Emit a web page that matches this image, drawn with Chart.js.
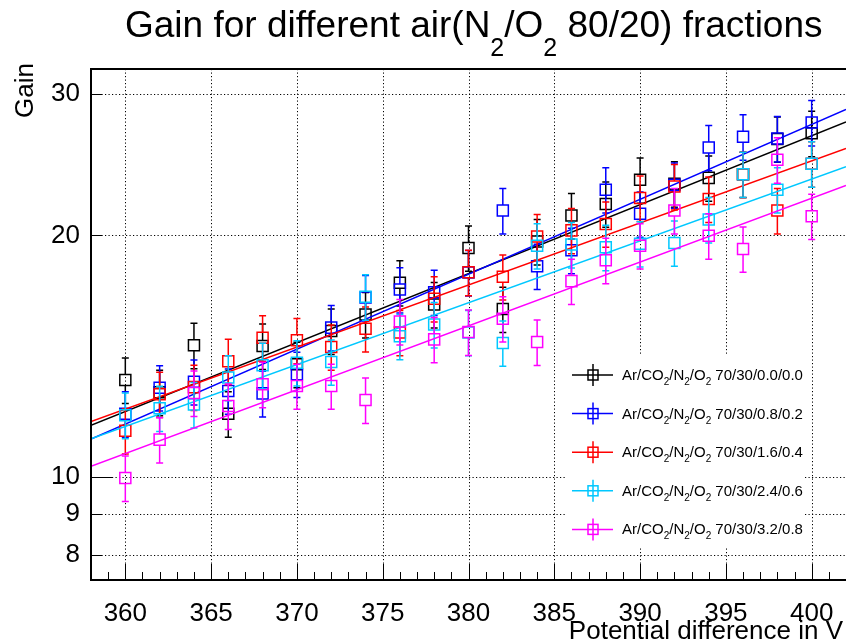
<!DOCTYPE html>
<html>
<head>
<meta charset="utf-8">
<script src="https://cdn.jsdelivr.net/npm/chart.js@4/dist/chart.umd.min.js"></script>
<style>
html,body{margin:0;padding:0;background:#fff;}
#wrap{width:846px;height:644px;position:relative;}
</style>
</head>
<body>
<div id="wrap"><canvas id="c" width="846" height="644"></canvas></div>
<script>
// ---------------- data ----------------
const voltages = [360,362,364,366,368,370,372,374,376,378,380,382,384,386,388,390,392,394,396,398,400];

const mixLabels = ['70/30/0.0/0.0','70/30/0.8/0.2','70/30/1.6/0.4','70/30/2.4/0.6','70/30/3.2/0.8'];
const mixColors = ['#000000','#0000ff','#ff0000','#00c8ff','#ff00ff'];

const gain_00 = [13.21,12.75,14.59,11.99,14.56,13.82,15.20,15.94,17.46,16.40,19.29,16.19,19.65,21.17,21.89,23.46,23.19,23.59,23.84,26.38,26.81];
const err_00  = [0.86,0.83,0.95,0.78,0.95,0.90,0.99,1.04,1.13,1.07,1.25,1.05,1.28,1.38,1.42,1.52,1.51,1.53,1.55,1.71,1.74];

const gain_08 = [11.99,12.92,13.14,12.80,12.71,13.43,15.35,16.73,17.12,16.99,17.98,21.48,18.31,19.16,22.80,21.28,23.12,25.74,26.55,26.41,27.65];
const err_08  = [0.78,0.84,0.85,0.83,0.83,0.87,1.00,1.09,1.11,1.10,1.17,1.40,1.19,1.25,1.48,1.38,1.50,1.67,1.73,1.72,1.80];

const gain_16 = [11.42,12.68,12.94,13.94,14.91,14.80,14.52,15.30,15.14,16.68,17.99,17.76,19.94,20.29,20.67,22.27,23.01,22.20,23.83,21.48,24.56];
const err_16  = [0.74,0.82,0.84,0.91,0.97,0.96,0.94,0.99,0.98,1.08,1.17,1.15,1.30,1.32,1.34,1.45,1.50,1.44,1.55,1.40,1.60];

const gain_24 = [11.94,12.18,12.31,13.30,13.78,13.88,13.91,16.77,14.97,15.49,15.14,14.69,19.42,19.48,19.33,19.53,19.57,20.93,23.84,22.80,24.56];
const err_24  = [0.78,0.79,0.80,0.86,0.90,0.90,0.90,1.09,0.97,1.01,0.98,0.95,1.26,1.27,1.26,1.27,1.27,1.36,1.55,1.48,1.60];

const gain_32 = [9.97,11.13,12.72,12.26,13.05,12.98,12.98,12.47,15.62,14.84,15.16,15.75,14.73,17.54,18.62,19.42,21.48,19.98,19.24,24.85,21.13];
const err_32  = [0.65,0.72,0.83,0.80,0.85,0.84,0.84,0.81,1.02,0.96,0.99,1.02,0.96,1.14,1.21,1.26,1.40,1.30,1.25,1.62,1.37];

// exponential fit lines (gain at both ends of the axis)
const fitVoltages = [358, 402];
const fit_00 = [11.60, 27.69];
const fit_08 = [11.15, 28.70];
const fit_16 = [11.72, 25.66];
const fit_24 = [11.16, 24.35];
const fit_32 = [10.31, 23.09];

const xTickValues = [360,365,370,375,380,385,390,395,400];
const yTickValues = [8,9,10,20,30];
const xRange = [358, 402];
const yRange = [7.44, 32.24];

const titleParts = [['Gain for different air(N',0],['2',1],['/O',0],['2',1],[' 80/20) fractions',0]];
const xTitle = 'Potential difference in V';
const yTitle = 'Gain';

// ---------------- build ----------------
const FONT = "'Liberation Sans', Arial, Helvetica, sans-serif";
const gains = [gain_00, gain_08, gain_16, gain_24, gain_32];
const errs  = [err_00, err_08, err_16, err_24, err_32];
const fits  = [fit_00, fit_08, fit_16, fit_24, fit_32];

const datasets = [];
gains.forEach((g, k) => {
  datasets.push({
    type: 'scatter',
    label: mixLabels[k],
    data: voltages.map((v, i) => ({x: v, y: g[i]})),
    errors: errs[k],
    borderColor: mixColors[k],
    backgroundColor: 'rgba(0,0,0,0)',
    pointStyle: 'rect',
    pointRadius: 7.8,
    pointBorderWidth: 1.5,
    showLine: false,
    order: 100 - k * 10
  });
  datasets.push({
    type: 'line',
    label: 'fit ' + mixLabels[k],
    data: fitVoltages.map((v, i) => ({x: v, y: fits[k][i]})),
    borderColor: mixColors[k],
    borderWidth: 1.5,
    pointRadius: 0,
    tension: 0,
    fill: false,
    order: 99 - k * 10
  });
});

function drawParts(ctx, parts, x, y, size, subSize, subDy) {
  let cx = x;
  for (const [t, sub] of parts) {
    ctx.font = (sub ? subSize : size) + 'px ' + FONT;
    ctx.fillText(t, cx, sub ? y + subDy : y);
    cx += ctx.measureText(t).width;
  }
  return cx - x;
}

const rootStyle = {
  id: 'rootStyle',
  beforeDatasetsDraw(chart) {
    const {ctx, chartArea: a, scales: {x, y}} = chart;
    ctx.save();
    ctx.strokeStyle = '#000';
    ctx.lineWidth = 1;
    ctx.setLineDash([1.2, 2.3]);
    xTickValues.forEach(v => {
      const px = Math.round(x.getPixelForValue(v)) + 0.5;
      ctx.beginPath(); ctx.moveTo(px, a.top); ctx.lineTo(px, a.bottom); ctx.stroke();
    });
    yTickValues.forEach(v => {
      const py = Math.round(y.getPixelForValue(v)) + 0.5;
      ctx.beginPath(); ctx.moveTo(a.left, py); ctx.lineTo(a.right, py); ctx.stroke();
    });
    ctx.restore();
  },
  afterDatasetDraw(chart, args) {
    const ds = chart.data.datasets[args.index];
    if (!ds.errors) return;
    const {ctx, chartArea: a, scales: {y}} = chart;
    ctx.save();
    ctx.beginPath(); ctx.rect(a.left, a.top, a.right - a.left, a.bottom - a.top); ctx.clip();
    ctx.strokeStyle = ds.borderColor;
    ctx.lineWidth = 1.5;
    const half = 5.5, cap = 3.5;
    args.meta.data.forEach((pt, i) => {
      const v = ds.data[i].y, e = ds.errors[i];
      const yt = y.getPixelForValue(v + e), yb = y.getPixelForValue(v - e);
      const px = pt.x, py = pt.y;
      ctx.beginPath();
      if (yt < py - half) { ctx.moveTo(px, py - half); ctx.lineTo(px, yt); ctx.moveTo(px - cap, yt); ctx.lineTo(px + cap, yt); }
      if (yb > py + half) { ctx.moveTo(px, py + half); ctx.lineTo(px, yb); ctx.moveTo(px - cap, yb); ctx.lineTo(px + cap, yb); }
      ctx.stroke();
    });
    ctx.restore();
  },
  afterDraw(chart) {
    const {ctx, chartArea: a, scales: {x, y}} = chart;
    ctx.save();
    // ticks
    ctx.strokeStyle = '#000';
    ctx.lineWidth = 1;
    for (let v = xRange[0]; v <= xRange[1]; v++) {
      const px = Math.round(x.getPixelForValue(v)) + 0.5;
      const len = (v % 5 === 0) ? 16 : 8;
      ctx.beginPath(); ctx.moveTo(px, a.bottom); ctx.lineTo(px, a.bottom - len); ctx.stroke();
    }
    yTickValues.forEach(v => {
      const py = Math.round(y.getPixelForValue(v)) + 0.5;
      const len = (v === 10) ? 21 : 11;
      ctx.beginPath(); ctx.moveTo(a.left, py); ctx.lineTo(a.left + len, py); ctx.stroke();
    });
    // frame
    ctx.lineWidth = 2;
    ctx.beginPath();
    ctx.moveTo(a.right + 2, a.top); ctx.lineTo(a.left, a.top); ctx.lineTo(a.left, a.bottom); ctx.lineTo(a.right + 2, a.bottom);
    ctx.stroke();

    // legend
    ctx.fillStyle = '#fff';
    ctx.fillRect(565, 354, 238, 194);
    mixLabels.forEach((lab, k) => {
      const yc = 375 + k * 38.6;
      ctx.strokeStyle = mixColors[k];
      ctx.lineWidth = 1.5;
      ctx.beginPath();
      ctx.moveTo(572, yc); ctx.lineTo(613, yc);
      ctx.moveTo(593, yc - 11); ctx.lineTo(593, yc + 11);
      ctx.stroke();
      ctx.strokeRect(588, yc - 5, 10, 10);
      ctx.fillStyle = '#000';
      ctx.textAlign = 'left';
      ctx.textBaseline = 'alphabetic';
      drawParts(ctx, [['Ar/CO',0],['2',1],['/N',0],['2',1],['/O',0],['2',1],[' ' + lab,0]], 622, yc + 5, 15, 10, 5);
    });

    // title
    ctx.fillStyle = '#000';
    ctx.textAlign = 'left';
    ctx.textBaseline = 'alphabetic';
    drawParts(ctx, titleParts, 125, 37, 37, 25, 19);

    // axis titles
    ctx.font = '26px ' + FONT;
    ctx.textAlign = 'right';
    ctx.fillText(xTitle, 843, 639);
    ctx.save();
    ctx.translate(33, 63);
    ctx.rotate(-Math.PI / 2);
    ctx.textAlign = 'right';
    ctx.fillText(yTitle, 0, 0);
    ctx.restore();
    ctx.restore();
  }
};

new Chart(document.getElementById('c'), {
  type: 'scatter',
  data: { datasets },
  options: {
    responsive: false,
    animation: false,
    devicePixelRatio: 1,
    events: [],
    layout: { autoPadding: false, padding: { top: 69, right: 0, bottom: 0, left: 0 } },
    plugins: { legend: { display: false }, title: { display: false }, tooltip: { enabled: false } },
    scales: {
      x: {
        type: 'linear', min: xRange[0], max: xRange[1],
        grid: { display: false, drawTicks: false },
        border: { display: false },
        ticks: { font: { size: 26, family: FONT }, color: '#000', padding: 18, autoSkip: false, maxRotation: 0, callback: v => String(v) },
        afterBuildTicks: s => { s.ticks = xTickValues.map(v => ({ value: v })); },
        afterFit: s => { s.height = 64; s.paddingLeft = 0; s.paddingRight = 0; }
      },
      y: {
        type: 'logarithmic', min: yRange[0], max: yRange[1],
        grid: { display: false, drawTicks: false },
        border: { display: false },
        ticks: { font: { size: 26, family: FONT }, color: '#000', padding: 11, autoSkip: false, callback: v => String(v) },
        afterBuildTicks: s => { s.ticks = yTickValues.map(v => ({ value: v })); },
        afterFit: s => { s.width = 91; s.paddingTop = 0; s.paddingBottom = 0; }
      }
    }
  },
  plugins: [rootStyle]
});
</script>
</body>
</html>
